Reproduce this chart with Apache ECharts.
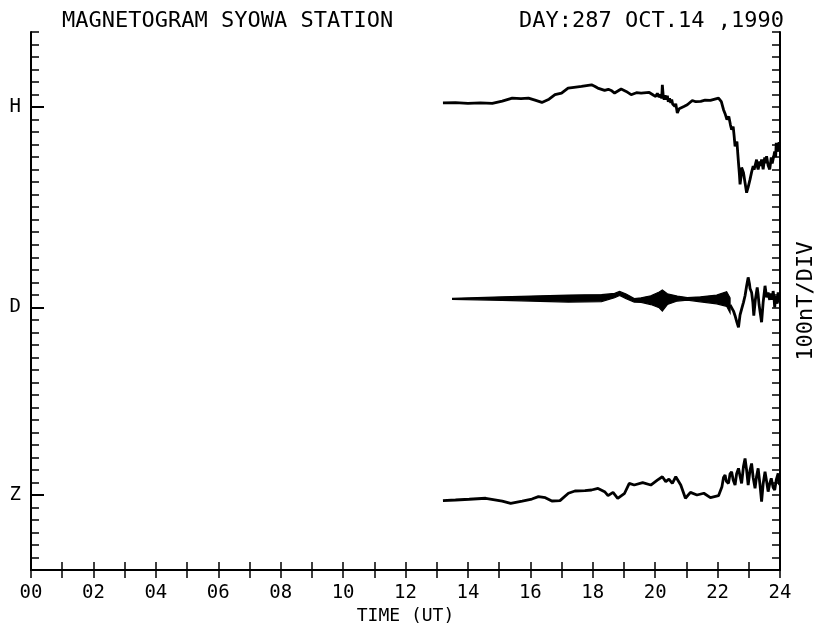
<!DOCTYPE html>
<html>
<head>
<meta charset="utf-8">
<script src="https://cdn.jsdelivr.net/npm/echarts@6/dist/echarts.min.js"></script>
<style>html,body{margin:0;padding:0;background:#fff;}#chart{width:825px;height:630px;}</style>
</head>
<body>
<div id="chart"></div>
<script>
// ---- data ----
const titleLeft = 'MAGNETOGRAM SYOWA STATION';
const titleRight = 'DAY:287 OCT.14 ,1990';
const hourLabels = ['00','02','04','06','08','10','12','14','16','18','20','22','24'];
const components = ['H', 'D', 'Z'];
const componentBaseDiv = [37, 21, 6];   // axis position (in divisions) of each component's zero mark
const nTPerDiv = 100;

// H component: [time (h UT), deviation (nT)]
const hTrace = [
  [13.20,33],[13.60,35],[14.00,29],[14.40,33],[14.78,29],[15.10,47],[15.42,72],[15.70,67],[15.94,72],
  [16.15,55],[16.37,37],[16.60,63],[16.79,99],[17.00,112],[17.21,152],[17.40,158],[17.64,165],[17.80,172],
  [17.96,178],[18.06,166],[18.16,152],[18.38,133],[18.50,142],[18.59,133],[18.70,112],[18.91,144],[19.07,125],
  [19.23,99],[19.40,115],[19.55,112],[19.81,117],[19.95,95],[20.02,85],[20.07,110],[20.12,80],[20.18,100],
  [20.21,70],[20.23,178],[20.26,83],[20.29,59],[20.32,95],[20.35,60],[20.39,91],[20.42,43],[20.46,70],
  [20.50,33],[20.53,60],[20.56,25],[20.60,40],[20.63,6],[20.66,27],[20.71,-47],[20.77,-13],[20.82,-7],
  [20.92,5],[21.03,19],[21.19,53],[21.30,43],[21.46,45],[21.60,55],[21.77,53],[22.03,72],
  [22.12,43],[22.19,-21],[22.25,-60],[22.30,-100],[22.36,-76],[22.41,-140],[22.45,-180],[22.50,-156],
  [22.53,-230],[22.56,-313],[22.62,-275],[22.65,-380],[22.67,-445],[22.70,-540],[22.72,-618],[22.75,-560],
  [22.77,-483],[22.83,-525],[22.88,-604],[22.93,-684],[22.98,-640],[23.04,-578],[23.09,-520],[23.14,-472],
  [23.17,-500],[23.20,-514],[23.25,-419],[23.27,-470],[23.30,-498],[23.35,-435],[23.38,-470],[23.41,-419],
  [23.46,-498],[23.51,-403],[23.54,-450],[23.57,-392],[23.62,-466],[23.67,-498],[23.72,-403],[23.75,-450],
  [23.78,-445],[23.81,-380],[23.83,-355],[23.86,-400],[23.88,-286],[23.91,-330],[23.94,-355],[23.97,-280],[23.99,-326]
];

// D component envelope (quiet part): time, upper (nT), lower (nT)
const dTime  = [13.51,15.10,17.22,18.28,18.70,18.86,19.07,19.33,19.55,19.86,20.13,20.23,20.39,20.71,21.03,21.45,21.97,22.29,22.40];
const dUpper = [72,   84,   98,   102,  111,  127,  106,  70,   76,   92,   122,  138,  108,  90,   78,   84,   98,   125,  76];
const dLower = [64,   56,   42,   46,   76,   94,   68,   42,   40,   22,   -4,   -30,  22,   50,   58,   44,   28,   8,    -44];

// D component disturbed part: [time, nT]
const dTrace = [
  [22.40,20],[22.46,13],[22.51,-30],[22.56,-67],[22.62,-120],[22.67,-159],[22.72,-60],[22.77,-14],[22.83,40],
  [22.88,92],[22.93,170],[22.98,239],[23.02,190],[23.04,150],[23.09,119],[23.13,40],[23.16,-67],[23.21,60],[23.27,159],
  [23.30,100],[23.33,20],[23.37,-50],[23.41,-119],[23.46,40],[23.52,172],[23.57,80],[23.62,119],[23.65,80],[23.67,60],
  [23.70,110],[23.72,92],[23.75,60],[23.78,130],[23.81,70],[23.83,0],[23.86,90],[23.88,60],[23.91,30],[23.94,119],
  [23.97,40],[23.99,66]
];

// Z component: [time, nT]
const zTrace = [
  [13.20,-45],[13.60,-40],[14.04,-34],[14.57,-26],[15.10,-48],[15.37,-66],[15.74,-48],[16.05,-32],[16.26,-13],
  [16.48,-21],[16.69,-48],[16.95,-45],[17.22,14],[17.43,32],[17.75,35],[17.96,40],[18.17,53],[18.38,27],
  [18.49,-5],[18.65,21],[18.80,-26],[19.02,14],[19.17,93],[19.33,80],[19.60,99],[19.86,80],[20.07,119],
  [20.23,146],[20.34,107],[20.44,127],[20.55,93],[20.66,146],[20.82,80],[20.97,-26],[21.13,21],[21.34,0],
  [21.56,14],[21.77,-21],[22.03,-5],[22.14,67],[22.19,140],[22.24,159],[22.28,110],[22.35,93],[22.40,170],[22.45,186],
  [22.50,120],[22.56,80],[22.61,170],[22.67,213],[22.72,150],[22.77,93],[22.83,230],[22.88,292],[22.93,200],[22.98,80],
  [23.04,200],[23.09,252],[23.14,140],[23.20,53],[23.25,150],[23.30,213],[23.36,80],[23.41,-53],[23.46,90],[23.52,186],
  [23.57,110],[23.62,27],[23.67,90],[23.72,133],[23.78,60],[23.83,40],[23.88,120],[23.94,173],[23.97,100],[23.99,80]
];

// ---- chart ----
const FONT = 'DejaVu Sans Mono';
const toDiv = (base, nT) => base + nT / nTPerDiv;
const hBase = componentBaseDiv[0], dBase = componentBaseDiv[1], zBase = componentBaseDiv[2];

const chart = echarts.init(document.getElementById('chart'), null, {renderer: 'canvas'});

const frameLine = {show: true, lineStyle: {color: '#000', width: 2}};
const minorTick = {show: true, inside: true, length: 8, lineStyle: {color: '#000', width: 1.5}};

chart.setOption({
  backgroundColor: '#fff',
  animation: false,
  title: [
    {text: titleLeft, left: 57, top: 5, textStyle: {fontFamily: FONT, fontSize: 22, fontWeight: 'normal', color: '#000'}},
    {text: titleRight, right: 36, top: 5, textStyle: {fontFamily: FONT, fontSize: 22, fontWeight: 'normal', color: '#000'}}
  ],
  grid: {left: 31, right: 38, top: 32, bottom: 58, containLabel: false},
  xAxis: [
    {
      type: 'value', position: 'bottom', min: 0, max: 24, interval: 1,
      axisLine: frameLine, axisTick: minorTick, splitLine: {show: false},
      axisLabel: {
        color: '#000', fontFamily: FONT, fontSize: 19, margin: 13,
        formatter: v => (v % 2 === 0 ? hourLabels[v / 2] : '')
      },
      name: 'TIME (UT)', nameLocation: 'middle', nameGap: 30,
      nameTextStyle: {color: '#000', fontFamily: FONT, fontSize: 18}
    },
    {
      type: 'value', position: 'top', min: 0, max: 24, interval: 1,
      axisLine: frameLine, axisTick: minorTick, splitLine: {show: false},
      axisLabel: {show: false}
    }
  ],
  yAxis: [
    {
      type: 'value', position: 'left', min: 0, max: 43, interval: 1,
      axisLine: frameLine, axisTick: minorTick, splitLine: {show: false},
      axisLabel: {show: false}
    },
    {
      type: 'value', position: 'left', min: 0, max: 43, interval: 1,
      axisLine: {show: false}, splitLine: {show: false},
      axisTick: {show: true, inside: true, length: 13, customValues: componentBaseDiv, lineStyle: {color: '#000', width: 2}},
      axisLabel: {
        show: true, customValues: componentBaseDiv, margin: 10,
        color: '#000', fontFamily: FONT, fontSize: 19,
        formatter: v => components[componentBaseDiv.indexOf(v)] || ''
      }
    },
    {
      type: 'value', position: 'right', min: 0, max: 43, interval: 1,
      axisLine: frameLine, axisTick: minorTick, splitLine: {show: false},
      axisLabel: {show: false},
      name: '100nT/DIV', nameLocation: 'middle', nameGap: 15, nameRotate: 90,
      nameTextStyle: {color: '#000', fontFamily: FONT, fontSize: 22}
    }
  ],
  series: [
    {
      name: 'H', type: 'line', xAxisIndex: 0, yAxisIndex: 0, showSymbol: false, symbol: 'none',
      lineStyle: {color: '#000', width: 2.8}, z: 5,
      data: hTrace.map(p => [p[0], toDiv(hBase, p[1])])
    },
    {
      name: 'D band', type: 'custom', xAxisIndex: 0, yAxisIndex: 0, z: 5,
      data: [[dTime[0], dBase]],
      renderItem: function (params, api) {
        const pts = [];
        for (let i = 0; i < dTime.length; i++) pts.push(api.coord([dTime[i], toDiv(dBase, dUpper[i])]));
        for (let i = dTime.length - 1; i >= 0; i--) pts.push(api.coord([dTime[i], toDiv(dBase, dLower[i])]));
        return {type: 'polygon', shape: {points: pts}, style: {fill: '#000', stroke: '#000', lineWidth: 1.2}};
      }
    },
    {
      name: 'D', type: 'line', xAxisIndex: 0, yAxisIndex: 0, showSymbol: false, symbol: 'none',
      lineStyle: {color: '#000', width: 2.8}, z: 5,
      data: dTrace.map(p => [p[0], toDiv(dBase, p[1])])
    },
    {
      name: 'Z', type: 'line', xAxisIndex: 0, yAxisIndex: 0, showSymbol: false, symbol: 'none',
      lineStyle: {color: '#000', width: 2.8}, z: 5,
      data: zTrace.map(p => [p[0], toDiv(zBase, p[1])])
    }
  ]
});
</script>
</body>
</html>
